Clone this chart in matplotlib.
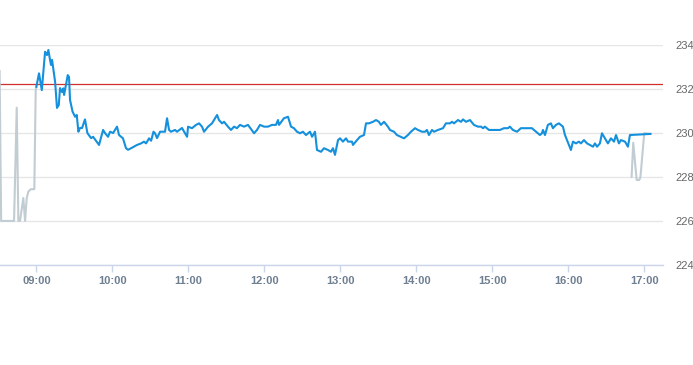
import matplotlib
matplotlib.use("Agg")
import matplotlib.pyplot as plt

# minutes after 09:00 and prices, regular session (blue)
blue_t = [0, 2.1, 4.3, 6.9, 8.4, 9.5, 10.8, 11.6, 12.4, 14.8, 16.3, 17.7, 18.7, 20.3, 21.3, 21.9,
          24.8, 25.8, 26.6, 28.6, 30.6, 31.9, 33.2, 34.5, 36.1, 38.4, 40.3, 43.2, 44.8, 49.5, 52.7,
          54.2, 56.6, 58.2, 60.6, 63.7, 65.3, 68.4, 70.8, 72.4, 74.8, 79.5, 82.7, 85.0, 86.6, 89.0,
          90.6, 92.5, 93.7, 95.3, 97.7, 101.6, 103.2, 104.8, 106.3, 109.5, 111.1, 115.0, 119.0,
          119.8, 122.9, 126.1, 128.5, 130.8, 132.4, 135.6, 138.7, 142.7, 144.2, 146.6, 148.2, 151.3,
          153.7, 156.1, 158.4, 160.8, 164.0, 167.1, 171.9, 174.2, 176.6, 179.8, 182.9, 186.1, 189.2,
          190.8, 191.6, 195.5, 198.7, 201.1, 203.4, 205.8, 208.2, 210.5, 212.9, 216.1, 217.7, 220.0,
          221.6, 224.8, 227.1, 230.3, 232.6, 234.2, 235.8, 238.2, 239.8, 242.1, 244.5, 246.1, 249.2,
          250.0, 253.2, 255.5, 258.7, 260.3, 262.6, 265.8, 268.2, 270.5, 272.1, 274.5, 277.6, 279.2,
          282.4, 284.7, 290.3, 293.4, 295.8, 299.0, 301.3, 304.5, 306.9, 308.4, 310.0, 312.4, 314.0,
          317.1, 321.1, 323.4, 326.6, 328.2, 329.8, 332.9, 335.3, 336.9, 339.2, 342.4, 345.5, 348.7,
          351.1, 352.7, 354.2, 357.4, 366.1, 369.2, 372.4, 373.9, 376.3, 379.5, 382.6, 391.3, 394.5,
          397.6, 399.2, 400.0, 401.6, 403.9, 406.3, 407.9, 410.3, 412.6, 415.8, 417.4, 419.0, 422.1,
          423.7, 426.1, 428.4, 430.0, 432.4, 434.8, 437.1, 439.5, 441.1, 442.7, 445.0, 446.6, 449.0,
          451.3, 453.7, 456.1, 457.7, 460.0, 461.6, 464.8, 467.1, 468.7, 483.7, 484.9]
blue_v = [232.09, 232.70, 231.94, 233.68, 233.53, 233.76, 233.31, 233.08, 233.31, 232.32, 231.13,
          231.26, 232.03, 231.85, 232.02, 231.72, 232.62, 232.53, 231.49, 230.96, 230.73, 230.81,
          230.05, 230.22, 230.22, 230.61, 229.99, 229.76, 229.82, 229.45, 230.13, 229.99, 229.82,
          230.05, 229.99, 230.28, 229.90, 229.75, 229.30, 229.23, 229.30, 229.45, 229.52, 229.60,
          229.52, 229.75, 229.64, 230.05, 229.98, 229.76, 230.05, 230.05, 230.66, 230.13, 230.05,
          230.13, 230.05, 230.22, 229.82, 230.28, 230.21, 230.36, 230.43, 230.28, 230.05, 230.28,
          230.43, 230.81, 230.58, 230.43, 230.50, 230.28, 230.13, 230.28, 230.21, 230.36, 230.28,
          230.36, 229.98, 230.13, 230.36, 230.28, 230.28, 230.36, 230.36, 230.58, 230.36, 230.66,
          230.73, 230.28, 230.21, 230.05, 229.98, 230.05, 229.90, 230.05, 229.82, 230.05, 229.22,
          229.14, 229.30, 229.22, 229.14, 229.30, 229.00, 229.67, 229.75, 229.60, 229.75, 229.60,
          229.60, 229.45, 229.67, 229.82, 229.90, 230.43, 230.43, 230.50, 230.58, 230.50, 230.36,
          230.50, 230.28, 230.13, 230.05, 229.90, 229.75, 229.90, 230.05, 230.21, 230.13, 230.05,
          230.05, 230.13, 229.90, 230.13, 230.05, 230.13, 230.21, 230.43, 230.43, 230.50, 230.43,
          230.58, 230.50, 230.61, 230.50, 230.58, 230.36, 230.28, 230.28, 230.21, 230.28, 230.13,
          230.13, 230.21, 230.21, 230.28, 230.13, 230.05, 230.21, 230.21, 230.05, 229.90, 229.98,
          230.13, 229.90, 230.36, 230.43, 230.21, 230.36, 230.43, 230.28, 229.90, 229.67, 229.22,
          229.60, 229.52, 229.60, 229.52, 229.67, 229.52, 229.45, 229.37, 229.52, 229.37, 229.52,
          229.98, 229.75, 229.52, 229.75, 229.60, 229.90, 229.52, 229.67, 229.60, 229.37, 229.90,
          229.95, 229.95]

# extended hours (grey): pre-market and after-hours
pre_t = [-29.0, -27.8, -17.6, -15.5, -14.2, -12.9, -10.3, -8.9, -7.6, -6.3, -4.4, -1.6, -0.5, 0.0]
pre_v = [232.8, 226.0, 226.0, 231.14, 226.0, 226.0, 227.04, 226.0, 227.04, 227.33, 227.44, 227.44,
         231.94, 232.09]
post_t = [470.0, 471.3, 474.0, 476.1, 477.0, 480.0, 484.9]
post_v = [228.0, 229.55, 227.86, 227.86, 228.0, 229.99, 229.95]

prev_close = 232.22

tick_pos = [0, 60, 120, 180, 240, 300, 360, 420, 480]
tick_labels = ["09:00", "10:00", "11:00", "12:00", "13:00", "14:00", "15:00", "16:00", "17:00"]
y_ticks = [224, 226, 228, 230, 232, 234]

W, H = 693, 365
fig = plt.figure(figsize=(W / 100, H / 100), dpi=100)
ax = fig.add_axes([0, 1 - 265 / H, 663 / W, (265 - 44.7) / H])

ax.set_xlim(-28.7, 494.8)
ax.set_ylim(224, 234)

for s in ["top", "left", "right"]:
    ax.spines[s].set_visible(False)
ax.spines["bottom"].set_color("#ccd6eb")
ax.spines["bottom"].set_linewidth(1)

ax.set_yticks(y_ticks)
ax.grid(axis="y", color="#e6e6e6", linewidth=1)
ax.set_axisbelow(True)
ax.yaxis.tick_right()
ax.tick_params(axis="y", length=0, pad=9, labelsize=8, labelcolor="#666666")
for lab in ax.get_yticklabels():
    lab.set_fontfamily("Liberation Sans")

ax.set_xticks(tick_pos)
ax.set_xticklabels(tick_labels)
ax.tick_params(axis="x", length=5, width=1, color="#ccd6eb", pad=3, labelsize=8,
               labelcolor="#6e7f91")
for lab in ax.get_xticklabels():
    lab.set_fontfamily("Liberation Sans")
    lab.set_fontweight("bold")

ax.axhline(prev_close, color="#d22f2f", linewidth=0.9, zorder=2)
ax.plot(pre_t, pre_v, color="#c2ccd3", linewidth=1.5, zorder=3)
ax.plot(post_t, post_v, color="#c2ccd3", linewidth=1.5, zorder=3)
ax.plot(blue_t, blue_v, color="#1590dc", linewidth=1.5, zorder=4, solid_joinstyle="round")

fig.savefig("out.png", dpi=100)
